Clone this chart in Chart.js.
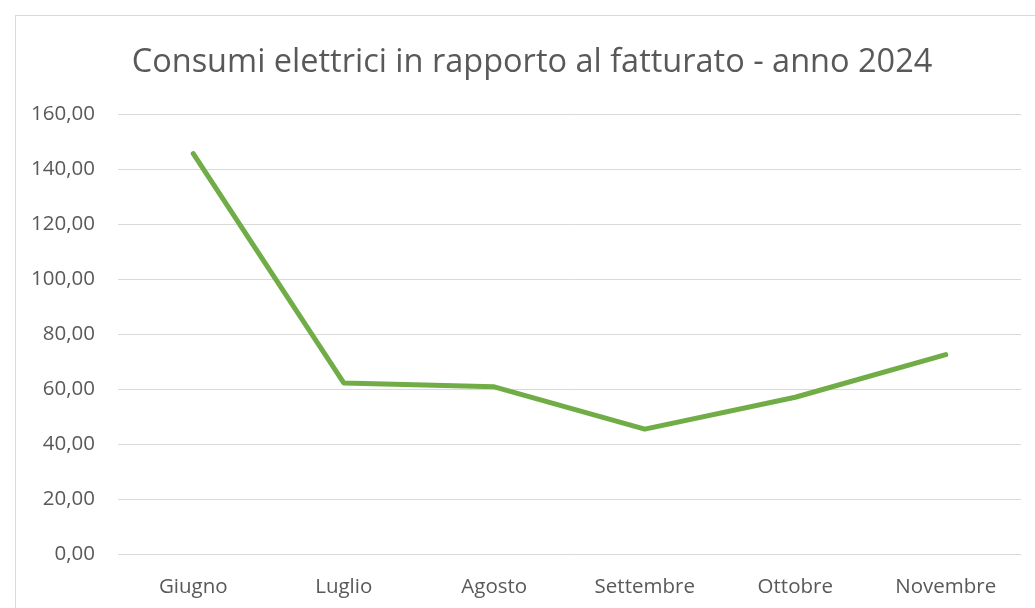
<!DOCTYPE html>
<html>
<head>
<meta charset="utf-8">
<script src="https://cdn.jsdelivr.net/npm/chart.js@4/dist/chart.umd.min.js"></script>
<style>
  html, body { margin: 0; padding: 0; background: #ffffff; }
  #wrap { position: relative; width: 1035px; height: 608px; overflow: hidden; }
  #frame { position: absolute; left: 15px; top: 15px; width: 1100px; height: 700px;
           border: 1px solid #d9d9d9; box-sizing: border-box; }
  canvas { position: absolute; left: 0; top: 0; }
</style>
</head>
<body>
<div id="wrap">
  <div id="frame"></div>
  <canvas id="chart" width="1035" height="608"></canvas>
</div>
<script>
// Monthly electricity consumption relative to turnover, 2024
const months = ['Giugno', 'Luglio', 'Agosto', 'Settembre', 'Ottobre', 'Novembre'];
const ratio = [145.6, 62.2, 60.8, 45.4, 57.0, 72.5];
const yTicks = [0, 20, 40, 60, 80, 100, 120, 140, 160];
const chartTitle = 'Consumi elettrici in rapporto al fatturato - anno 2024';

const textColor = '#595959';
const gridColor = '#d9d9d9';
const fontFamily = "'Open Sans', 'Liberation Sans', sans-serif";

// Title centred over the chart frame rather than the canvas
const frameTitle = {
  id: 'frameTitle',
  afterDraw(chart) {
    const ctx = chart.ctx;
    ctx.save();
    ctx.fillStyle = textColor;
    ctx.font = `32.5px ${fontFamily}`;
    ctx.textAlign = 'center';
    ctx.textBaseline = 'middle';
    ctx.fillText(chartTitle, 532, 63);
    ctx.restore();
  }
};

new Chart(document.getElementById('chart'), {
  type: 'line',
  data: {
    labels: months,
    datasets: [{
      data: ratio,
      borderColor: '#70ad47',
      borderWidth: 5,
      borderCapStyle: 'round',
      borderJoinStyle: 'round',
      pointRadius: 0,
      tension: 0,
      fill: false
    }]
  },
  options: {
    responsive: false,
    animation: false,
    layout: { padding: { left: 0, right: 14, top: 114, bottom: 0 } },
    plugins: {
      legend: { display: false },
      tooltip: { enabled: false },
      title: { display: false }
    },
    scales: {
      x: {
        offset: true,
        grid: { display: false, drawTicks: false },
        border: { display: false },
        ticks: { color: textColor, font: { family: fontFamily, size: 20.5 }, padding: 21, maxRotation: 0 },
        afterFit: (s) => { s.height = 608 - 554; }
      },
      y: {
        min: 0,
        max: 160,
        afterBuildTicks: (s) => { s.ticks = yTicks.map(v => ({ value: v })); },
        grid: { color: gridColor, lineWidth: 1, drawTicks: false },
        border: { display: false },
        ticks: {
          color: textColor,
          font: { family: fontFamily, size: 20.5 },
          padding: 23,
          callback: (v) => v.toFixed(2).replace('.', ',')
        },
        afterFit: (s) => { s.width = 118; }
      }
    }
  },
  plugins: [frameTitle]
});
</script>
</body>
</html>
